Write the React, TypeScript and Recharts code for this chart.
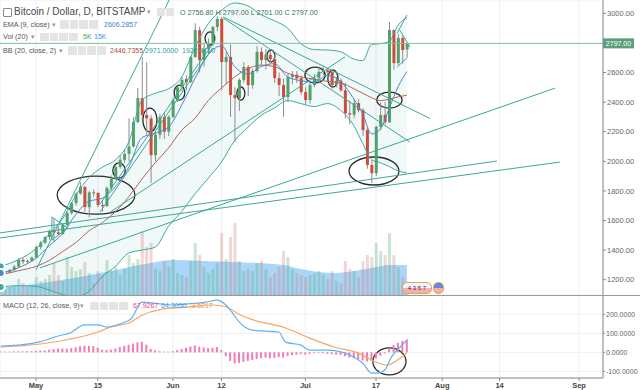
import React from 'react';
import {
  ComposedChart, Bar, Line, Area, XAxis, YAxis, CartesianGrid,
  ReferenceLine, ReferenceArea, Cell,
} from 'recharts';

// day 0 = 1 May 2017, one candle per day from 23 Apr to 24 Jul
const FIRST_DAY = -8;

const opens = [
  1236, 1245, 1250, 1265, 1288, 1334, 1322, 1327,
  1350, 1420, 1450, 1488, 1530, 1520, 1508, 1570, 1650, 1718, 1782,
  1827, 1690, 1790, 1786, 1705, 1698, 1820, 1880, 1962, 2010,
  2050, 2100, 2265, 2427, 2313, 2290, 2042, 2180, 2300, 2200,
  2300, 2414, 2500, 2555, 2535, 2705, 2887, 2684, 2760, 2800,
  2908, 2962, 2671, 2705, 2448, 2427, 2550, 2637, 2515, 2610,
  2740, 2684, 2720, 2690, 2562, 2515, 2434, 2570, 2585, 2562,
  2468, 2414, 2515, 2562, 2604, 2615, 2604, 2515, 2545, 2480,
  2325, 2315, 2393, 2346, 2211, 1975, 1920, 2233, 2313, 2264,
  2887, 2664, 2833, 2756.8,
];
const highs = [
  1250, 1256, 1272, 1300, 1345, 1348, 1336, 1356,
  1430, 1462, 1495, 1540, 1610, 1560, 1580, 1660, 1725, 1790, 1860,
  1835, 1800, 1810, 1795, 1740, 1830, 1905, 1975, 2040, 2080,
  2290, 2300, 2495, 2705, 2670, 2310, 2200, 2320, 2330, 2310,
  2430, 2510, 2570, 2580, 2710, 2933, 2910, 2800, 2830, 2915,
  2980, 2975, 2740, 2790, 2500, 2560, 2670, 2650, 2625, 2780,
  2770, 2760, 2745, 2720, 2600, 2560, 2590, 2610, 2610, 2580,
  2500, 2530, 2590, 2640, 2640, 2630, 2620, 2570, 2560, 2530,
  2410, 2420, 2420, 2360, 2230, 2010, 2240, 2400, 2400, 2941,
  2890, 2860, 2850, 2797,
];
const lows = [
  1225, 1238, 1245, 1260, 1285, 1305, 1308, 1320,
  1345, 1405, 1440, 1470, 1460, 1500, 1505, 1560, 1640, 1700, 1775,
  1660, 1620, 1760, 1690, 1660, 1690, 1805, 1875, 1950, 1990,
  2000, 2095, 2260, 2290, 2180, 1853, 2000, 2150, 2150, 2170,
  2290, 2400, 2470, 2480, 2530, 2700, 2600, 2640, 2730, 2780,
  2880, 2480, 2520, 2300, 2130, 2340, 2530, 2440, 2490, 2600,
  2650, 2620, 2660, 2530, 2440, 2300, 2400, 2520, 2530, 2450,
  2380, 2390, 2500, 2550, 2580, 2570, 2490, 2500, 2470, 2290,
  2250, 2290, 2330, 2170, 1950, 1853, 1900, 2210, 2250, 2260,
  2620, 2650, 2660, 2701,
];
const closes = [
  1245, 1250, 1265, 1288, 1334, 1322, 1327, 1350,
  1420, 1450, 1488, 1530, 1520, 1508, 1570, 1650, 1718, 1782, 1827,
  1690, 1790, 1786, 1705, 1698, 1820, 1880, 1962, 2010, 2050,
  2100, 2265, 2427, 2313, 2290, 2042, 2180, 2300, 2200, 2300,
  2414, 2500, 2550, 2535, 2705, 2887, 2684, 2760, 2800, 2908,
  2962, 2671, 2705, 2448, 2427, 2550, 2637, 2515, 2610, 2740,
  2684, 2720, 2690, 2562, 2515, 2434, 2570, 2585, 2560, 2468,
  2414, 2515, 2562, 2604, 2615, 2604, 2515, 2545, 2480, 2325,
  2315, 2393, 2346, 2211, 1975, 1920, 2233, 2313, 2264, 2887,
  2664, 2833, 2752, 2797,
];
// volume in thousands
const volumes = [
  3, 3, 4, 5, 8, 6, 4, 5,
  9, 7, 8, 10, 16, 10, 7, 19, 14, 12, 13,
  16.5, 11, 6, 12, 10, 17.5, 12, 14, 10, 13,
  20, 16, 18, 32, 24, 26, 13, 12, 17, 14,
  18, 11, 10, 9, 17, 26, 20, 14, 11, 13,
  16, 31, 18, 29, 36, 17, 12, 13, 12, 16,
  17, 13, 9, 11, 14, 22, 19, 13, 11, 10,
  9, 10, 11, 12, 10, 8, 12, 7, 6, 17,
  13, 12, 9, 17, 20, 19, 26, 22, 20, 31,
  20, 14, 9, 5,
];
const macdHist = [
  4, 4, 4, 5, 5, 5, 6, 6,
  8, 9, 10, 14, 18, 20, 20, 19, 22, 26, 32,
  35, 34, 33, 25, 14, 12, 14, 20, 28, 34,
  40, 46, 52, 55, 40, 18, 10, 6, 4, 3,
  6, 12, 18, 24, 30, 36, 30, 26, 22, 24,
  28, 12, -20, -45, -58, -55, -50, -45, -40, -35,
  -30, -28, -32, -30, -25, -28, -20, -14, -12, -10,
  -12, -8, -5, -4, -5, -8, -10, -12, -14, -20,
  -28, -30, -36, -42, -48, -44, -32, -18, -6, 22,
  38, 50, 60, 68,
];

// indicator values
const bbDays = [-8, -4, 0, 3, 6, 9, 12, 15, 18, 21, 24, 27, 30, 33, 36, 39, 42, 45, 48, 51, 54, 57, 60, 63, 66, 69, 72, 74, 76, 78, 80, 82, 84];
const bbUpper = [1290, 1335, 1410, 1510, 1610, 1770, 1890, 1960, 2010, 2130, 2414, 2460, 2490, 2570, 2770, 2930, 3020, 3070, 3050, 2990, 2950, 2900, 2795, 2755, 2752, 2740, 2690, 2680, 2790, 2795, 2810, 2920, 2971];
const bbLower = [1150, 1160, 1155, 1130, 1100, 1085, 1120, 1220, 1290, 1380, 1400, 1420, 1560, 1660, 1780, 1885, 1995, 2140, 2230, 2310, 2360, 2410, 2390, 2370, 2390, 2345, 2240, 2120, 2010, 1990, 1965, 1935, 1922];
const bbBasis = [1233, 1260, 1290, 1330, 1390, 1450, 1530, 1585, 1660, 1760, 1880, 1990, 2090, 2210, 2290, 2410, 2495, 2570, 2625, 2650, 2640, 2595, 2570, 2555, 2540, 2530, 2490, 2460, 2430, 2410, 2420, 2435, 2447];
const ema9 = [1245, 1280, 1345, 1430, 1510, 1640, 1730, 1750, 1830, 1960, 2160, 2190, 2230, 2380, 2560, 2720, 2780, 2640, 2590, 2640, 2660, 2570, 2545, 2535, 2580, 2540, 2420, 2320, 2185, 2218, 2359, 2503, 2606];

const volMaDays = [-8, -2, 3, 10, 18, 26, 31, 38, 45, 50, 56, 60, 64, 68, 72, 76, 80, 84];
const volMaVals = [4, 5, 6.5, 9, 12.5, 16, 17.5, 17, 16.5, 16, 15, 13, 11.5, 11, 12, 13.5, 15, 15];

const macdDays = [-8, -4, 1, 5, 7.5, 11, 14, 16, 19.5, 21.5, 24, 27, 31, 34, 38.5, 41, 43, 44.5, 46, 49, 55, 56.5, 60, 62, 66, 69.5, 72, 74, 76, 77.5, 79, 80.5, 82.5, 84];
const macdVals = [33, 38, 56, 86, 100, 144, 144, 133, 154, 175, 264, 258, 249, 254, 264, 275, 249, 207, 160, 117, 107, 54, 38, 12, 12, 0, -25, -56, -109, -109, -93, -25, 28, 64];
const signalDays = [-8, 1, 14, 17, 21.5, 24, 28, 34, 40, 43, 46, 49, 56.5, 62, 67.5, 73, 77, 79.5, 82.5, 84];
const signalVals = [28, 44, 107, 133, 160, 195, 225, 238, 249, 240, 200, 172, 128, 75, 28, -4, -51, -67, -30, -4];

// hand-drawn trend lines: [day1, price1, day2, price2]
const trendLines = [
  [-8.15, 1516, 104.4, 2002],
  [-8.15, 1482, 118.7, 1995],
  [0.9, 1280, 117.6, 2495],
  [0, 1266, 31, 3140],
  [14.5, 1711, 40.5, 2813],
  [14.5, 1657, 40, 2766],
  [16.8, 1657, 70, 2706],
  [42.4, 2975, 89.2, 2290],
  [42.4, 2968, 84.7, 2130],
  [3.6, 1624, 3.6, 1468],
  [3.6, 1624, 7.2, 1549],
  [3.6, 1468, 7.2, 1549],
  [81.8, 2866, 84, 2989],
  [81.8, 2637, 84, 2698],
  [82.4, 2887, 84.7, 2772],
];
// hand-drawn ellipses: [day1, day2, price1, price2]
const priceCircles = [
  [4.8, 22.4, 1643, 1900],
  [70.9, 82.2, 1840, 2029],
  [77.2, 82.9, 2360, 2468],
  [60.9, 65.5, 2529, 2637],
  [66.1, 68.4, 2502, 2617],
  [52.3, 54.1, 2671, 2752],
  [45.5, 47.3, 2414, 2502],
  [38.3, 40.5, 2786, 2874],
  [24.2, 27.4, 2198, 2360],
  [31.3, 33.7, 2414, 2515],
  [17.4, 20.2, 1887, 1989],
];
const macdCircle = [76.3, 83.8, -119, 23];

const dateTicks = [0, 14, 31, 42, 61, 77, 92, 105, 123];
const dateLabels = ['May', '15', 'Jun', '12', 'Jul', '17', 'Aug', '14', 'Sep'];
const priceTicks = [1200, 1400, 1600, 1800, 2000, 2200, 2400, 2600, 3000];
const macdTicks = [-100, 0, 100, 200];

const UP = '#53a06a';
const DOWN = '#d14b3b';
const WICK = '#8c8c8c';
const TEAL = '#3faaa0';
const GRID = '#efefef';
const AXIS = '#8a8a8a';

const X_DOMAIN: [number, number] = [-8.154, 128.42];
const PRICE_DOMAIN: [number, number] = [1096.6, 3090];
const VOL_DOMAIN: [number, number] = [0, 147.5];
const MACD_DOMAIN: [number, number] = [-135, 301.6];

const Candle = (props: any) => {
  const { x, y, width, height, payload } = props;
  const { o, h, l, c } = payload;
  const top = Math.min(y, y + height);
  const full = Math.abs(height);
  const k = h === l ? 0 : full / (h - l);
  const bodyTop = top + (h - Math.max(o, c)) * k;
  const bodyH = Math.max(1, Math.abs(o - c) * k);
  const cx = x + width / 2;
  return (
    <g>
      <line x1={cx} x2={cx} y1={top} y2={top + full} stroke={WICK} strokeWidth={1} />
      <rect x={x} y={bodyTop} width={width} height={bodyH} fill={c >= o ? UP : DOWN} />
    </g>
  );
};

const Ellipse = (props: any) => {
  const { x, y, width, height } = props;
  return (
    <ellipse cx={x + width / 2} cy={y + height / 2} rx={Math.abs(width) / 2} ry={Math.abs(height) / 2}
      fill="none" stroke="#2b2b2b" strokeWidth={1.3} />
  );
};

const PriceTag = (props: any) => {
  const { viewBox, text } = props;
  const x = viewBox.x + viewBox.width;
  const y = viewBox.y;
  return (
    <g>
      <rect x={x} y={y - 5} width={31} height={10} fill="#5a9f7b" />
      <text x={x + 15.5} y={y + 2.6} textAnchor="middle" fontSize={7} fill="#fff">{text}</text>
    </g>
  );
};

const Txt = ({ x, y, size = 7, color = '#555', children }: any) => (
  <div style={{ position: 'absolute', left: x, top: y, fontSize: size, color, lineHeight: 1, whiteSpace: 'nowrap' }}>
    {children}
  </div>
);

const Icons = ({ x, y, n, s = 8.5 }: any) => (
  <div style={{ position: 'absolute', left: x, top: y, display: 'flex', gap: 1.2 }}>
    {Array.from({ length: n }).map((_, i) => (
      <div key={i} style={{ width: s, height: s, background: '#e4e4e4', borderRadius: 1 }} />
    ))}
  </div>
);

export default function App() {
  const candles = opens.map((o, i) => ({
    d: FIRST_DAY + i, o, h: highs[i], l: lows[i], c: closes[i],
    range: [lows[i], highs[i]], vol: volumes[i], hist: macdHist[i],
  }));
  const bands = bbDays.map((d, i) => ({
    d, band: [bbLower[i], bbUpper[i]], upper: bbUpper[i], lower: bbLower[i], basis: bbBasis[i], ema: ema9[i],
  }));
  const volMa = volMaDays.map((d, i) => ({ d, v: volMaVals[i] }));
  const macd = macdDays.map((d, i) => ({ d, v: macdVals[i] }));
  const signal = signalDays.map((d, i) => ({ d, v: signalVals[i] }));
  const last = candles[candles.length - 1];

  const margin = { top: 0, right: 0, bottom: 0, left: 0 };

  return (
    <div style={{ position: 'absolute', left: 0, top: 0, width: 640, height: 390, background: '#fff',
      fontFamily: "'Liberation Sans', Arial, sans-serif", overflow: 'hidden' }}>
      {/* back layer: grid and volume */}
      <div style={{ position: 'absolute', left: 0, top: 0 }}>
        <ComposedChart width={640} height={295} data={candles} margin={margin}>
          <XAxis dataKey="d" type="number" domain={X_DOMAIN} ticks={dateTicks} allowDataOverflow hide />
          <YAxis orientation="right" width={37} type="number" domain={PRICE_DOMAIN} ticks={priceTicks}
            allowDataOverflow tick={false} axisLine={false} tickLine={false} />
          <YAxis yAxisId="vol" hide domain={VOL_DOMAIN} allowDataOverflow />
          <CartesianGrid stroke={GRID} />
          <Bar yAxisId="vol" dataKey="vol" barSize={3} isAnimationActive={false}>
            {candles.map((k, i) => (
              <Cell key={i} fill={k.c >= k.o ? 'rgba(83,170,110,0.3)' : 'rgba(200,110,100,0.28)'} />
            ))}
          </Bar>
          <Area yAxisId="vol" data={volMa} dataKey="v" type="monotone" stroke="none"
            fill="#64b5f6" fillOpacity={0.55} isAnimationActive={false} />
        </ComposedChart>
      </div>

      {/* front layer: price */}
      <div style={{ position: 'absolute', left: 0, top: 0 }}>
        <ComposedChart width={640} height={295} data={candles} margin={margin}>
          <XAxis dataKey="d" type="number" domain={X_DOMAIN} allowDataOverflow hide />
          <YAxis orientation="right" width={37} type="number" domain={PRICE_DOMAIN} ticks={priceTicks}
            allowDataOverflow interval={0} tickSize={3} tickMargin={1} stroke={AXIS}
            tick={{ fontSize: 7.5, fill: '#666' }} tickFormatter={(v: number) => v.toFixed(2)} />
          <Area data={bands} dataKey="band" type="monotone" stroke="none" fill={TEAL} fillOpacity={0.07}
            isAnimationActive={false} />
          <Line data={bands} dataKey="upper" type="monotone" stroke={TEAL} strokeWidth={1} dot={false} isAnimationActive={false} />
          <Line data={bands} dataKey="lower" type="monotone" stroke={TEAL} strokeWidth={1} dot={false} isAnimationActive={false} />
          <Line data={bands} dataKey="basis" type="monotone" stroke="#b5625a" strokeWidth={1} dot={false} isAnimationActive={false} />
          <Line data={bands} dataKey="ema" type="monotone" stroke="#4d86cc" strokeWidth={1} dot={false} isAnimationActive={false} />
          {trendLines.map(([d1, p1, d2, p2], i) => (
            <ReferenceLine key={`t${i}`} segment={[{ x: d1, y: p1 }, { x: d2, y: p2 }]}
              stroke="#3ba897" strokeWidth={1} ifOverflow="hidden" />
          ))}
          <ReferenceLine y={last.c} stroke="#7fbfa5" strokeWidth={1} ifOverflow="visible"
            label={<PriceTag text={last.c.toFixed(2)} />} />
          <Bar dataKey="range" barSize={3} isAnimationActive={false} shape={(p: any) => <Candle {...p} />} />
          {priceCircles.map(([x1, x2, y1, y2], i) => (
            <ReferenceArea key={`e${i}`} x1={x1} x2={x2} y1={y1} y2={y2} shape={(p: any) => <Ellipse {...p} />} />
          ))}
        </ComposedChart>
      </div>

      {/* MACD pane */}
      <div style={{ position: 'absolute', left: 0, top: 295 }}>
        <ComposedChart width={640} height={95} data={candles} margin={margin}>
          <CartesianGrid stroke={GRID} />
          <XAxis dataKey="d" type="number" domain={X_DOMAIN} ticks={dateTicks} allowDataOverflow interval={0}
            height={12} tickSize={3} stroke={AXIS}
            tick={{ fontSize: 7.5, fill: '#444', fontWeight: 'bold' }}
            tickFormatter={(v: number) => dateLabels[dateTicks.indexOf(v)]} />
          <YAxis orientation="right" width={37} type="number" domain={MACD_DOMAIN} ticks={macdTicks}
            allowDataOverflow interval={0} tickSize={2} tickMargin={1} stroke={AXIS}
            tick={{ fontSize: 7, fill: '#666' }} tickFormatter={(v: number) => v.toFixed(4)} />
          <Bar dataKey="hist" barSize={2} fill="#f27bb3" isAnimationActive={false} />
          <Line data={signal} dataKey="v" type="monotone" stroke="#f8a463" strokeWidth={1.2} dot={false} isAnimationActive={false} />
          <Line data={macd} dataKey="v" type="monotone" stroke="#5fb2f2" strokeWidth={1.2} dot={false} isAnimationActive={false} />
          <ReferenceArea x1={macdCircle[0]} x2={macdCircle[1]} y1={macdCircle[2]} y2={macdCircle[3]}
            shape={(p: any) => <Ellipse {...p} />} />
        </ComposedChart>
      </div>

      <div style={{ position: 'absolute', left: 0, top: 295, width: 640, height: 1, background: '#9a9a9a' }} />

      {/* legends */}
      <div style={{ position: 'absolute', left: 3, top: 8, width: 7, height: 7, border: '1px solid #888', borderRadius: 1 }} />
      <Txt x={14} y={7} size={10} color="#4a4a4a">Bitcoin / Dollar, D, BITSTAMP</Txt>
      <Txt x={147} y={8} color="#999">▾</Txt>
      <Icons x={157} y={8} n={2} s={8} />
      <Txt x={180} y={8.5} size={7.2} color="#3d6e52">
        O {last.o.toFixed(2)} H {last.h.toFixed(2)} L {last.l.toFixed(2)} C {last.c.toFixed(2)}
      </Txt>

      <Txt x={3} y={20.5} size={7.2}>EMA (9, close)</Txt>
      <Txt x={52} y={20.5} color="#999">▾</Txt>
      <Icons x={60} y={20} n={4} />
      <Txt x={104} y={20.5} color="#3f80d0">2606.2857</Txt>

      <Txt x={3} y={33} size={7.2}>Vol (20)</Txt>
      <Txt x={31} y={33} color="#999">▾</Txt>
      <Icons x={40} y={32.5} n={4} />
      <Txt x={83} y={33} color="#3aa55a">5K</Txt>
      <Txt x={94} y={33} color="#3a9ae8">15K</Txt>

      <Txt x={3} y={46.5} size={7.2}>BB (20, close, 2)</Txt>
      <Txt x={59} y={46.5} color="#999">▾</Txt>
      <Icons x={68} y={46} n={4} />
      <Txt x={110} y={46.5} color="#b04a40">2446.7355</Txt>
      <Txt x={145} y={46.5} color="#2f9e92">2971.0000</Txt>
      <Txt x={182} y={46.5} color="#2f9e92">1922.4710</Txt>

      <Txt x={3} y={302} size={7.2}>MACD (12, 26, close, 9)</Txt>
      <Txt x={80} y={302} color="#999">▾</Txt>
      <Icons x={90} y={301.5} n={4} />
      <Txt x={133} y={302} color="#f0418f">67.9267</Txt>
      <Txt x={161} y={302} color="#3d9fee">64.3050</Txt>
      <Txt x={189} y={302} color="#f5913f">-3.6217</Txt>

      {/* event markers */}
      <div style={{ position: 'absolute', left: 402, top: 282, width: 28, height: 10, borderRadius: 5,
        border: '1px solid #f0a040', background: 'linear-gradient(#eef4ff 50%, #f3b0b0 50%)',
        fontSize: 6, lineHeight: '10px', textAlign: 'center', color: '#333' }}>4 3 5 7</div>
      <div style={{ position: 'absolute', left: 433, top: 282, width: 9, height: 10, borderRadius: 5,
        border: '1px solid #f0a040', background: 'linear-gradient(#5b8de0 50%, #f3b0b0 50%)' }} />
    </div>
  );
}
